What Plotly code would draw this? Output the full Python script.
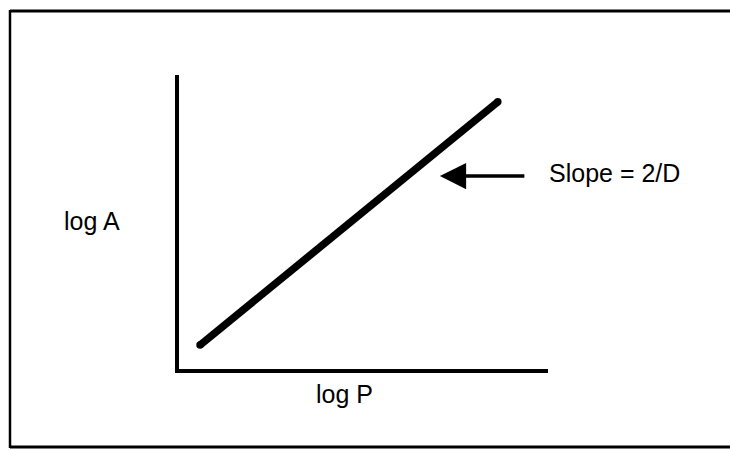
import plotly.graph_objects as go

# Schematic of log A versus log P: a straight line whose slope is 2/D
log_p = [0.57, 8.64]
log_a = [0.65, 7.27]

x_range = [0, 10]
y_range = [0, 8]

# Page and plot-area geometry (pixels)
W, H = 730, 450
M_L, M_R, M_T, M_B = 179, 182, 75, 81
PW, PH = W - M_L - M_R, H - M_T - M_B


def paper_x(px):
    return (px - M_L) / PW


def paper_y(py):
    return (H - M_B - py) / PH


FONT = dict(family="Arial, Liberation Sans, Helvetica, sans-serif", size=25, color="black")

fig = go.Figure()
fig.add_trace(go.Scatter(
    x=log_p, y=log_a, mode="lines+markers",
    line=dict(color="black", width=7.5),
    marker=dict(color="black", size=7.5),
    hoverinfo="skip", showlegend=False,
))

axis_common = dict(
    showline=True, linecolor="black", linewidth=4,
    showgrid=False, zeroline=False, showticklabels=False, ticks="",
)
fig.update_xaxes(range=x_range, **axis_common)
fig.update_yaxes(range=y_range, **axis_common)

# Arrow pointing at the line, with the slope label beside it
arrow_x, arrow_y = 7.07, 5.25
fig.add_annotation(
    x=arrow_x, y=arrow_y, xref="x", yref="y", text="",
    showarrow=True, arrowhead=2, arrowsize=1.5, arrowwidth=3.5,
    arrowcolor="black", ax=86, ay=0, axref="pixel", ayref="pixel",
    standoff=0,
)
fig.add_annotation(
    x=paper_x(547), y=paper_y(173), xref="paper", yref="paper",
    text="Slope = 2/D", showarrow=False, xanchor="left", yanchor="middle",
    font=FONT,
)
fig.add_annotation(
    x=paper_x(62), y=paper_y(221), xref="paper", yref="paper",
    text="log A", showarrow=False, xanchor="left", yanchor="middle",
    font=FONT,
)
fig.add_annotation(
    x=paper_x(344), y=paper_y(394), xref="paper", yref="paper",
    text="log P", showarrow=False, xanchor="center", yanchor="middle",
    font=FONT,
)

# Frame around the figure (open on the right edge)
frame = dict(type="line", xref="paper", yref="paper", line=dict(color="black", width=3))
fig.add_shape(x0=paper_x(10), x1=paper_x(730), y0=paper_y(11), y1=paper_y(11), **frame)
fig.add_shape(x0=paper_x(10), x1=paper_x(730), y0=paper_y(447), y1=paper_y(447), **frame)
fig.add_shape(x0=paper_x(10), x1=paper_x(10), y0=paper_y(10), y1=paper_y(448),
              type="line", xref="paper", yref="paper", line=dict(color="black", width=2.5))

fig.update_layout(
    width=W, height=H,
    margin=dict(l=M_L, r=M_R, t=M_T, b=M_B),
    paper_bgcolor="white", plot_bgcolor="white",
    showlegend=False,
)

fig.write_html("out.html")
